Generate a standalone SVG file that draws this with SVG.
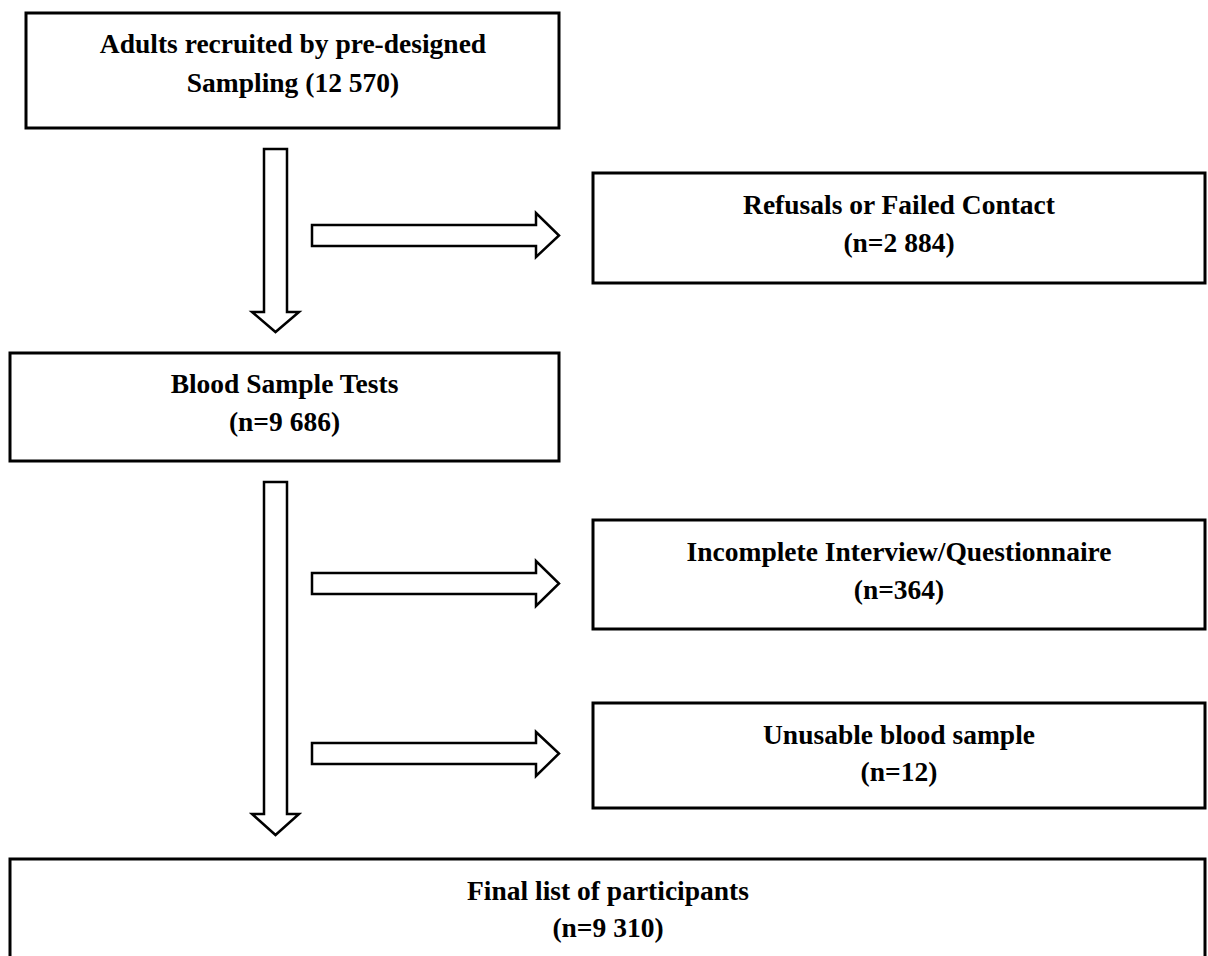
<svg xmlns="http://www.w3.org/2000/svg" width="1208" height="956" viewBox="0 0 1208 956">
<style>
.box{fill:#fff;stroke:#000;stroke-width:3}
.arr{fill:#fff;stroke:#000;stroke-width:2.5;stroke-linejoin:miter}
.t{font-family:"Liberation Serif","Times New Roman",serif;font-weight:bold;font-size:27.5px;fill:#000;text-anchor:middle}
</style>
<rect width="1208" height="956" fill="#fff"/>
<g id="connectors">
<polygon class="arr" points="264,149 287,149 287,312 299,312 275.5,332 252,312 264,312"/>
<polygon class="arr" points="312,225 536,225 536,213 559,235.5 536,257 536,246 312,246"/>
<polygon class="arr" points="264,482 287,482 287,814 299,814 275.5,835 252,814 264,814"/>
<polygon class="arr" points="312,573 536,573 536,561 559,583.5 536,606 536,594 312,594"/>
<polygon class="arr" points="312,743 536,743 536,732 559,753.5 536,776 536,764 312,764"/>
</g>
<g id="n1"><rect class="box" x="26" y="13" width="533" height="115"/>
<text class="t" x="293" y="53">Adults recruited by pre-designed</text>
<text class="t" x="293" y="92">Sampling (12 570)</text></g>
<g id="n2"><rect class="box" x="593" y="173" width="612" height="110"/>
<text class="t" x="899" y="214">Refusals or Failed Contact</text>
<text class="t" x="899" y="252">(n=2 884)</text></g>
<g id="n3"><rect class="box" x="10" y="353" width="549" height="108"/>
<text class="t" x="284.5" y="393">Blood Sample Tests</text>
<text class="t" x="284.5" y="431">(n=9 686)</text></g>
<g id="n4"><rect class="box" x="593" y="520" width="612" height="109"/>
<text class="t" x="899" y="561">Incomplete Interview/Questionnaire</text>
<text class="t" x="899" y="599">(n=364)</text></g>
<g id="n5"><rect class="box" x="593" y="703" width="612" height="105"/>
<text class="t" x="899" y="744">Unusable blood sample</text>
<text class="t" x="899" y="781">(n=12)</text></g>
<g id="n6"><rect class="box" x="10" y="859" width="1195" height="110"/>
<text class="t" x="608" y="900">Final list of participants</text>
<text class="t" x="608" y="937">(n=9 310)</text></g>
</svg>
